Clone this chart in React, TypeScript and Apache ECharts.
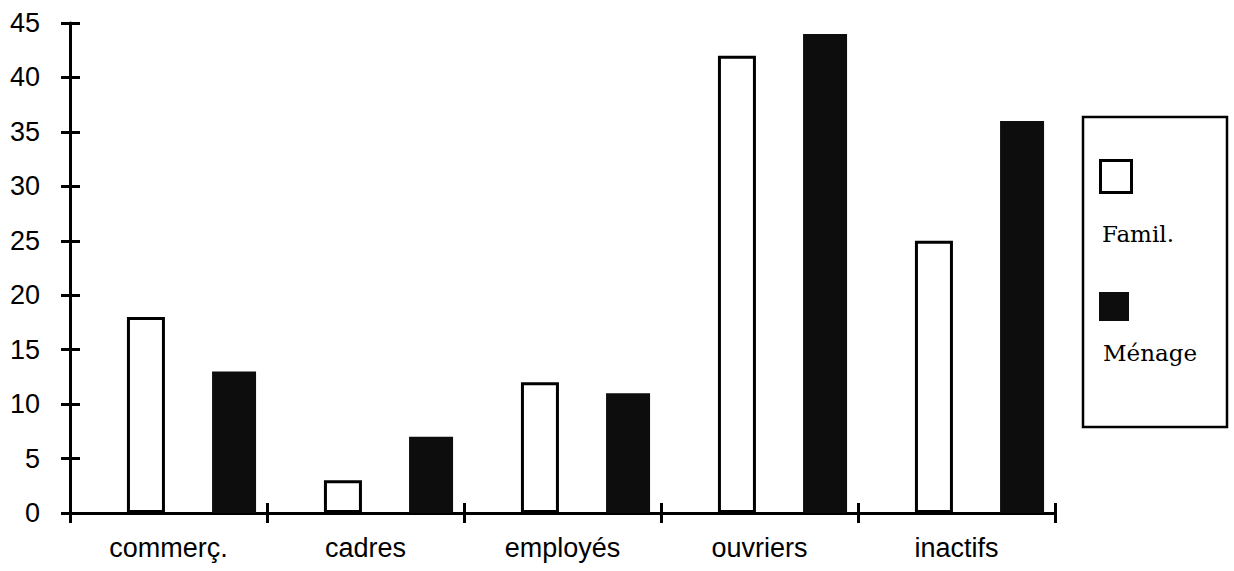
import React, { useEffect, useRef } from "react";
import * as echarts from "echarts";

const categories = ["commerç.", "cadres", "employés", "ouvriers", "inactifs"];
const familValues = [18, 3, 12, 42, 25];
const menageValues = [13, 7, 11, 44, 36];
const seriesNames = ["Famil.", "Ménage"];
const yMin = 0;
const yMax = 45;
const yInterval = 5;

export default function App() {
  const ref = useRef<HTMLDivElement>(null);
  useEffect(() => {
    document.body.style.margin = "0";
    const chart = echarts.init(ref.current!, null, { renderer: "svg" });
    const sans = "Liberation Sans";
    const serif = "DejaVu Serif";
    const black = "#000";
    const hidden = { axisLine: { show: false }, axisTick: { show: false }, axisLabel: { show: false } };
    const yBase = { type: "value", min: yMin, max: yMax, interval: yInterval, splitLine: { show: false } };
    const tickLine = { show: true, lineStyle: { color: black, width: 3 } };
    chart.setOption({
      animation: false,
      backgroundColor: "#fff",
      grid: [
        { left: 70, right: 179, top: 23, bottom: 58 },
        { left: 93, right: 156, top: 23, bottom: 58 },
        // strips that carry the crossing tick marks
        { left: 70, right: 179, top: 503, bottom: 48 },
        { left: 61, right: 1154, top: 23, bottom: 58 },
      ],
      xAxis: [
        {
          type: "category",
          gridIndex: 0,
          position: "bottom",
          data: categories,
          axisLine: { show: true, lineStyle: { color: black, width: 3 } },
          axisTick: { show: false },
          axisLabel: { color: black, fontFamily: sans, fontSize: 27, margin: 21 },
        },
        { type: "category", gridIndex: 1, data: categories, show: false },
        {
          type: "value",
          gridIndex: 2,
          min: 0,
          max: categories.length,
          interval: 1,
          splitLine: tickLine,
          ...hidden,
        },
        { type: "value", gridIndex: 3, min: 0, max: 1, splitLine: { show: false }, ...hidden },
      ],
      yAxis: [
        {
          ...yBase,
          gridIndex: 0,
          position: "left",
          axisLine: { show: true, lineStyle: { color: black, width: 3 } },
          axisTick: { show: false },
          axisLabel: { color: black, fontFamily: sans, fontSize: 27, margin: 30 },
        },
        { ...yBase, gridIndex: 1, show: false },
        { type: "value", gridIndex: 2, min: 0, max: 1, splitLine: { show: false }, ...hidden },
        { ...yBase, gridIndex: 3, ...hidden, splitLine: tickLine },
      ],
      series: [
        {
          name: seriesNames[0],
          type: "bar",
          xAxisIndex: 1,
          yAxisIndex: 1,
          data: familValues,
          barWidth: 38,
          barGap: "124%",
          itemStyle: { color: "#fff", borderColor: black, borderWidth: 3 },
        },
        {
          name: seriesNames[1],
          type: "bar",
          xAxisIndex: 1,
          yAxisIndex: 1,
          data: menageValues,
          barWidth: 44,
          barGap: "124%",
          itemStyle: { color: "#0d0d0d" },
        },
      ],
      graphic: [
        {
          type: "rect",
          shape: { x: 1083, y: 117, width: 144, height: 310 },
          style: { fill: "#fff", stroke: black, lineWidth: 2.5 },
        },
        {
          type: "rect",
          shape: { x: 1100.5, y: 160.5, width: 31, height: 32 },
          style: { fill: "#fff", stroke: black, lineWidth: 3 },
        },
        {
          type: "text",
          x: 1102,
          y: 234,
          style: { text: seriesNames[0], fill: black, font: `23px "${serif}"`, verticalAlign: "middle" },
        },
        {
          type: "rect",
          shape: { x: 1099, y: 292, width: 30, height: 29 },
          style: { fill: "#0d0d0d" },
        },
        {
          type: "text",
          x: 1103,
          y: 353,
          style: { text: seriesNames[1], fill: black, font: `23px "${serif}"`, verticalAlign: "middle" },
        },
      ],
    });
    return () => chart.dispose();
  }, []);
  return <div ref={ref} style={{ width: 1234, height: 571 }} />;
}
